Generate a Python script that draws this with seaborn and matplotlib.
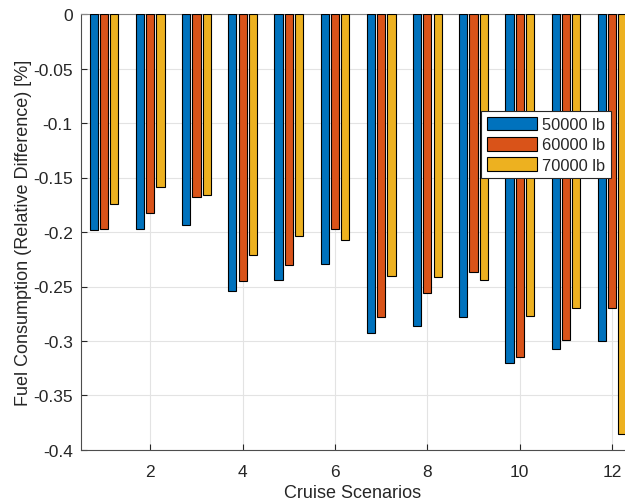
import matplotlib
matplotlib.use("Agg")
import matplotlib.pyplot as plt
import seaborn as sns
import pandas as pd
import numpy as np

scenarios = list(range(1, 13))
w50000 = [-0.198, -0.197, -0.194, -0.254, -0.244, -0.229, -0.293, -0.286, -0.278, -0.320, -0.307, -0.300]
w60000 = [-0.197, -0.183, -0.168, -0.245, -0.230, -0.197, -0.278, -0.256, -0.237, -0.315, -0.299, -0.270]
w70000 = [-0.174, -0.159, -0.166, -0.221, -0.204, -0.207, -0.240, -0.241, -0.244, -0.277, -0.270, -0.385]
series_labels = ["50000 lb", "60000 lb", "70000 lb"]
colors = ["#0072BD", "#D95319", "#EDB120"]

rows = []
for lab, vals in zip(series_labels, [w50000, w60000, w70000]):
    for s, v in zip(scenarios, vals):
        rows.append({"Scenario": s, "Value": v, "Weight": lab})
df = pd.DataFrame(rows)

sns.set_style("white")
plt.rcParams['font.family'] = ['Liberation Sans', 'DejaVu Sans']

fig = plt.figure(figsize=(6.25, 5.02), dpi=100)
ax = fig.add_axes([81/625, 1-451/502, (625-81)/625, (451-15)/502])

sns.barplot(data=df, x="Scenario", y="Value", hue="Weight", hue_order=series_labels,
            palette=colors, saturation=1, native_scale=True, width=0.667, gap=0.2,
            errorbar=None, edgecolor="black", linewidth=0.8, ax=ax, zorder=3)

ax.set_xlim(0.5, 12.28)
ax.set_ylim(-0.4, 0)
ax.set_xticks([2, 4, 6, 8, 10, 12])
ax.set_xticklabels(["2", "4", "6", "8", "10", "12"])
yt = [0, -0.05, -0.1, -0.15, -0.2, -0.25, -0.3, -0.35, -0.4]
ax.set_yticks(yt)
ax.set_yticklabels(["0", "-0.05", "-0.1", "-0.15", "-0.2", "-0.25", "-0.3", "-0.35", "-0.4"])
ax.grid(True, color="#e3e3e3", linewidth=0.8, zorder=0)
ax.set_axisbelow(True)
for side in ["left", "bottom", "top", "right"]:
    ax.spines[side].set_color("#4d4d4d")
    ax.spines[side].set_linewidth(0.8)
ax.spines["right"].set_visible(False)
ax.spines["top"].set_color("#888888")
ax.tick_params(axis="y", labelsize=12.5, colors="#262626", direction="in", length=4,
               width=0.8, left=True, pad=6)
ax.tick_params(axis="x", labelsize=12.5, colors="#262626", direction="in", length=4,
               width=0.8, bottom=True, pad=10)
ax.set_xlabel("Cruise Scenarios", fontsize=13, color="#262626", labelpad=4)
ax.set_ylabel("Fuel Consumption (Relative Difference) [%]", fontsize=13, color="#262626", labelpad=1)

leg = ax.legend(loc="upper left", bbox_to_anchor=(0.735, 0.778), fontsize=11.8,
                frameon=True, fancybox=False, edgecolor="#262626", framealpha=1,
                handlelength=3.1, handleheight=0.9, borderpad=0.35, labelspacing=0.3,
                handletextpad=0.3, borderaxespad=0)
leg.get_frame().set_linewidth(0.8)

fig.savefig("out.png", dpi=100)
